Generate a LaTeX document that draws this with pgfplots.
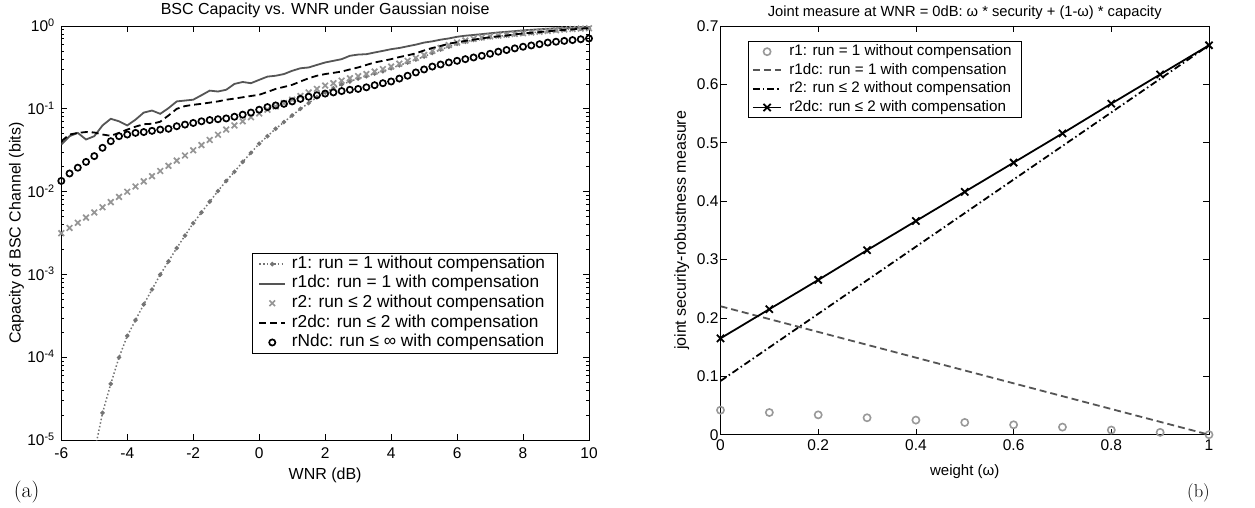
\documentclass[border=0pt]{standalone}
\usepackage{pgfplots}
\pgfplotsset{compat=1.18}
\usepackage{fontspec}
\newfontfamily\arial{Liberation Sans}
\definecolor{gA}{HTML}{747474}
\definecolor{gB}{HTML}{555555}
\definecolor{gC}{HTML}{959595}
\definecolor{gD}{HTML}{999999}
\pgfplotsset{
  myaxis/.style={
    scale only axis,
    clip mode=individual,
    tick align=inside,
    major tick length=6bp,
    minor tick length=3bp,
    axis line style={line width=0.8bp},
    every tick/.style={black, line width=0.8bp},
    legend cell align=left,
  }
}
\begin{document}
\begin{tikzpicture}
\useasboundingbox (0bp,0bp) rectangle (1255bp,508bp);
% ---------------- left panel
\begin{axis}[myaxis,
  at={(61.3bp,67.7bp)}, anchor=south west,
  width=527.7bp, height=414.3bp,
  xmin=-6, xmax=10, ymode=log, ymin=1e-5, ymax=1,
  tick label style={font=\arial\fontsize{15.5bp}{18bp}\selectfont},
  label style={font=\arial\fontsize{16bp}{19bp}\selectfont},
  title style={font=\arial\fontsize{16bp}{19bp}\selectfont},
  xtick={-6,-4,-2,0,2,4,6,8,10},
  xticklabels={-6,-4,-2,0,2,4,6,8,10},
  ytick={1e-5,1e-4,1e-3,1e-2,1e-1,1},
  yticklabels={10\textsuperscript{-5},10\textsuperscript{-4},10\textsuperscript{-3},10\textsuperscript{-2},10\textsuperscript{-1},10\textsuperscript{0}},
  minor ytick={2e-5,3e-5,4e-5,5e-5,6e-5,7e-5,8e-5,9e-5,2e-4,3e-4,4e-4,5e-4,6e-4,7e-4,8e-4,9e-4,2e-3,3e-3,4e-3,5e-3,6e-3,7e-3,8e-3,9e-3,0.02,0.03,0.04,0.05,0.06,0.07,0.08,0.09,0.2,0.3,0.4,0.5,0.6,0.7,0.8,0.9},
  xticklabel style={yshift=-4.3bp},
  yticklabel style={anchor=base east, yshift=-5.5bp, xshift=-3.1bp},
  xlabel={WNR (dB)},
  xlabel style={at={(axis description cs:0.5,0)}, anchor=center, yshift=-35bp},
  ylabel={Capacity of BSC Channel (bits)},
  ylabel style={at={(axis description cs:0,0.5)}, anchor=center, yshift=44.8bp},
  title={BSC Capacity vs. WNR under Gaussian noise},
  title style={at={(axis description cs:0.5,1)}, anchor=base, yshift=6bp},
  legend style={at={(0.3617,0.4524)}, anchor=north west,
    font=\arial\fontsize{17.3bp}{20bp}\selectfont, draw=black, line width=0.8bp,
    inner xsep=6bp, inner ysep=1bp, row sep=0bp,
    nodes={text height=12bp, text depth=3.6bp, inner ysep=2bp, inner xsep=6bp}},
  legend image code/.code={\draw[mark repeat=2,mark phase=2,#1] plot coordinates {(0bp,0bp) (12.8bp,0bp) (25.6bp,0bp)};},
]
\addplot[gA, line width=1.5bp, dash pattern=on 1.5bp off 2.2bp, mark=*, mark size=1.4bp, mark options={solid, fill=gA, draw=gA}] coordinates {
(-4.75,2.14e-5)(-4.5,4.79e-5)(-4.25,1.0e-4)(-4,1.82e-4)(-3.75,2.82e-4)(-3.5,4.37e-4)(-3.25,6.61e-4)(-3,1.0e-3)(-2.75,1.445e-3)(-2.5,2.09e-3)(-2.25,2.95e-3)(-2,4.17e-3)(-1.75,5.62e-3)(-1.5,7.59e-3)(-1.25,0.0102)(-1,0.0135)(-0.75,0.0174)(-0.5,0.0229)(-0.25,0.0295)(0,0.038)(0.25,0.0468)(0.5,0.0575)(0.75,0.0692)(1,0.0832)(1.25,0.1)(1.5,0.1175)(1.75,0.138)(2,0.158)(2.25,0.178)(2.5,0.197)(2.75,0.214)(3,0.232)(3.25,0.248)(3.5,0.266)(3.75,0.285)(4,0.309)(4.25,0.335)(4.5,0.363)(4.75,0.394)(5,0.427)(5.25,0.473)(5.5,0.519)(5.75,0.562)(6,0.610)(6.25,0.646)(6.5,0.679)(6.75,0.708)(7,0.731)(7.25,0.751)(7.5,0.771)(7.75,0.791)(8,0.809)(8.25,0.828)(8.5,0.847)(8.75,0.867)(9,0.885)(9.25,0.902)(9.5,0.916)(9.75,0.929)(10,0.940)};
\addlegendentry{r1: run = 1 without compensation}
\addplot[gB, line width=1.8bp] coordinates {
(-6,0.0372)(-5.75,0.0468)(-5.5,0.0513)(-5.25,0.0427)(-5,0.0468)(-4.75,0.0631)(-4.5,0.0759)(-4.25,0.0708)(-4,0.0631)(-3.75,0.0741)(-3.5,0.0902)(-3.25,0.0955)(-3,0.0871)(-2.75,0.102)(-2.5,0.123)(-2.25,0.126)(-2,0.129)(-1.75,0.146)(-1.5,0.166)(-1.25,0.162)(-1,0.170)(-0.75,0.200)(-0.5,0.211)(-0.25,0.204)(0,0.224)(0.25,0.245)(0.5,0.251)(0.75,0.263)(1,0.288)(1.25,0.309)(1.5,0.316)(1.75,0.339)(2,0.363)(2.25,0.380)(2.5,0.398)(2.75,0.437)(3,0.452)(3.25,0.457)(3.5,0.479)(3.75,0.501)(4,0.525)(4.25,0.543)(4.5,0.569)(4.75,0.596)(5,0.631)(5.25,0.653)(5.5,0.684)(5.75,0.708)(6,0.741)(6.25,0.764)(6.5,0.780)(6.75,0.798)(7,0.817)(7.25,0.836)(7.5,0.851)(7.75,0.867)(8,0.885)(8.25,0.900)(8.5,0.912)(8.75,0.925)(9,0.935)(9.25,0.946)(9.5,0.955)(9.75,0.962)(10,0.966)};
\addlegendentry{r1dc: run = 1 with compensation}
\addplot[only marks, gC, mark=x, mark size=4bp, line width=1.7bp] coordinates {
(-6,0.00316)(-5.75,0.00365)(-5.5,0.00422)(-5.25,0.00487)(-5,0.00562)(-4.75,0.00649)(-4.5,0.0075)(-4.25,0.00866)(-4,0.01)(-3.75,0.01155)(-3.5,0.01334)(-3.25,0.0154)(-3,0.01778)(-2.75,0.02054)(-2.5,0.02371)(-2.25,0.02738)(-2,0.03162)(-1.75,0.03652)(-1.5,0.04217)(-1.25,0.0487)(-1,0.05623)(-0.75,0.0631)(-0.5,0.0708)(-0.25,0.0794)(0,0.0881)(0.25,0.0977)(0.5,0.107)(0.75,0.1175)(1,0.129)(1.25,0.143)(1.5,0.158)(1.75,0.174)(2,0.191)(2.25,0.204)(2.5,0.219)(2.75,0.234)(3,0.248)(3.25,0.263)(3.5,0.282)(3.75,0.302)(4,0.324)(4.25,0.351)(4.5,0.380)(4.75,0.412)(5,0.447)(5.25,0.501)(5.5,0.543)(5.75,0.589)(6,0.631)(6.25,0.668)(6.5,0.700)(6.75,0.728)(7,0.750)(7.25,0.767)(7.5,0.785)(7.75,0.802)(8,0.817)(8.25,0.836)(8.5,0.855)(8.75,0.873)(9,0.891)(9.25,0.906)(9.5,0.920)(9.75,0.931)(10,0.940)};
\addlegendentry{r2: run ≤ 2 without compensation}
\addplot[black, line width=1.8bp, dash pattern=on 7bp off 4bp] coordinates {
(-6,0.0407)(-5.75,0.0490)(-5.5,0.0513)(-5.25,0.0525)(-5,0.0519)(-4.75,0.0490)(-4.5,0.0473)(-4.25,0.0513)(-4,0.0562)(-3.75,0.0610)(-3.5,0.0653)(-3.25,0.0661)(-3,0.070)(-2.75,0.0832)(-2.5,0.100)(-2.25,0.108)(-2,0.112)(-1.75,0.115)(-1.5,0.119)(-1.25,0.123)(-1,0.129)(-0.75,0.133)(-0.5,0.138)(-0.25,0.143)(0,0.148)(0.25,0.160)(0.5,0.174)(0.75,0.184)(1,0.195)(1.25,0.214)(1.5,0.234)(1.75,0.251)(2,0.263)(2.25,0.272)(2.5,0.282)(2.75,0.299)(3,0.316)(3.25,0.339)(3.5,0.363)(3.75,0.380)(4,0.398)(4.25,0.422)(4.5,0.442)(4.75,0.468)(5,0.507)(5.25,0.543)(5.5,0.575)(5.75,0.610)(6,0.638)(6.25,0.661)(6.5,0.684)(6.75,0.708)(7,0.733)(7.25,0.750)(7.5,0.767)(7.75,0.794)(8,0.813)(8.25,0.828)(8.5,0.845)(8.75,0.863)(9,0.881)(9.25,0.897)(9.5,0.912)(9.75,0.927)(10,0.940)};
\addlegendentry{r2dc: run ≤ 2 with compensation}
\addplot[only marks, black, mark=o, mark size=3.1bp, line width=1.7bp] coordinates {
(-6,0.0135)(-5.75,0.0166)(-5.5,0.0195)(-5.25,0.0229)(-5,0.0269)(-4.75,0.0339)(-4.5,0.0407)(-4.25,0.0468)(-4,0.049)(-3.75,0.0513)(-3.5,0.0525)(-3.25,0.0543)(-3,0.0562)(-2.75,0.0575)(-2.5,0.0617)(-2.25,0.0646)(-2,0.0676)(-1.75,0.0708)(-1.5,0.0733)(-1.25,0.075)(-1,0.0767)(-0.75,0.0804)(-0.5,0.0851)(-0.25,0.0902)(0,0.0977)(0.25,0.105)(0.5,0.110)(0.75,0.115)(1,0.123)(1.25,0.132)(1.5,0.140)(1.75,0.146)(2,0.153)(2.25,0.158)(2.5,0.164)(2.75,0.170)(3,0.174)(3.25,0.182)(3.5,0.193)(3.75,0.204)(4,0.214)(4.25,0.232)(4.5,0.251)(4.75,0.275)(5,0.299)(5.25,0.324)(5.5,0.343)(5.75,0.363)(6,0.380)(6.25,0.398)(6.5,0.417)(6.75,0.437)(7,0.462)(7.25,0.490)(7.5,0.513)(7.75,0.537)(8,0.562)(8.25,0.582)(8.5,0.603)(8.75,0.631)(9,0.646)(9.25,0.661)(9.5,0.676)(9.75,0.692)(10,0.708)};
\addlegendentry{rNdc: run ≤ ∞ with compensation}
\addplot[gA, line width=1.5bp, dash pattern=on 1.5bp off 2.2bp, forget plot] coordinates {(-5,7.08e-6)(-4.75,2.14e-5)};
\end{axis}
% ---------------- right panel
\begin{axis}[myaxis,
  at={(720.5bp,73.3bp)}, anchor=south west,
  width=488.5bp, height=408.7bp,
  xmin=0, xmax=1, ymin=0, ymax=0.7,
  tick label style={font=\arial\fontsize{15.5bp}{18bp}\selectfont},
  label style={font=\arial\fontsize{15bp}{18bp}\selectfont},
  title style={font=\arial\fontsize{14.7bp}{17bp}\selectfont},
  xtick={0,0.2,0.4,0.6,0.8,1},
  xticklabels={0,0.2,0.4,0.6,0.8,1},
  ytick={0,0.1,0.2,0.3,0.4,0.5,0.6,0.7},
  yticklabels={0,0.1,0.2,0.3,0.4,0.5,0.6,0.7},
  xticklabel style={yshift=-1.3bp},
  yticklabel style={xshift=1.5bp},
  xlabel={weight (ω)},
  xlabel style={at={(axis description cs:0.5,0)}, anchor=center, yshift=-37bp},
  ylabel={joint security-robustness measure},
  ylabel style={font=\arial\fontsize{16bp}{19bp}\selectfont, at={(axis description cs:0,0.5)}, anchor=center, yshift=38.8bp},
  title={Joint measure at WNR = 0dB: ω * security + (1-ω) * capacity},
  title style={at={(axis description cs:0.5,1)}, anchor=base, yshift=3.3bp},
  legend style={at={(0.0573,0.9633)}, anchor=north west,
    font=\arial\fontsize{15.2bp}{18bp}\selectfont, draw=black, line width=0.8bp,
    inner xsep=3bp, inner ysep=1bp, row sep=0bp,
    nodes={text height=11bp, text depth=3.2bp, inner ysep=2.2bp, inner xsep=7bp}},
  legend image code/.code={\draw[mark repeat=2,mark phase=2,#1] plot coordinates {(0bp,0bp) (14.3bp,0bp) (28.6bp,0bp)};},
]
\addplot[only marks, gD, mark=o, mark size=3.6bp, line width=1.6bp] coordinates {
(0,0.042)(0.1,0.038)(0.2,0.034)(0.3,0.029)(0.4,0.025)(0.5,0.021)(0.6,0.017)(0.7,0.013)(0.8,0.008)(0.9,0.004)(1,0)};
\addlegendentry{r1: run = 1 without compensation}
\addplot[gB, line width=1.8bp, dash pattern=on 7bp off 4bp] coordinates {
(0,0.22)(0.1,0.198)(0.2,0.176)(0.3,0.154)(0.4,0.132)(0.5,0.11)(0.6,0.088)(0.7,0.066)(0.8,0.044)(0.9,0.022)(1,0)};
\addlegendentry{r1dc: run = 1 with compensation}
\addplot[black, line width=1.8bp, dash pattern=on 7bp off 3bp on 1.5bp off 3bp] coordinates {
(0,0.092)(0.1,0.1495)(0.2,0.207)(0.3,0.2645)(0.4,0.322)(0.5,0.3795)(0.6,0.437)(0.7,0.4945)(0.8,0.552)(0.9,0.6095)(1,0.667)};
\addlegendentry{r2: run ≤ 2 without compensation}
\addplot[black, line width=1.8bp, mark=x, mark size=5.1bp, mark options={solid}] coordinates {
(0,0.165)(0.1,0.215)(0.2,0.265)(0.3,0.316)(0.4,0.366)(0.5,0.416)(0.6,0.466)(0.7,0.516)(0.8,0.567)(0.9,0.617)(1,0.667)};
\addlegendentry{r2dc: run ≤ 2 with compensation}
\end{axis}
\node[anchor=center] at (26.7bp,15.5bp) {\fontsize{22bp}{26bp}\selectfont (a)};
\node[anchor=center] at (1198.5bp,15bp) {\fontsize{18.5bp}{22bp}\selectfont (b)};
\end{tikzpicture}
\end{document}
